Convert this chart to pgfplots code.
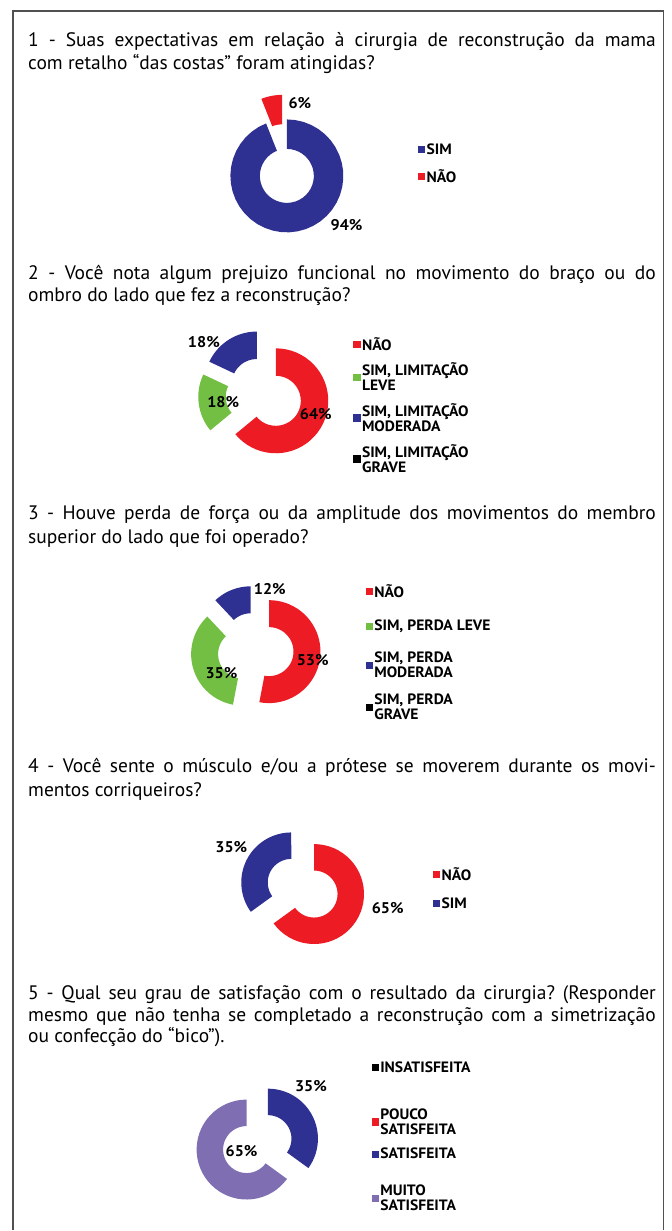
\documentclass[border=0pt]{standalone}
\usepackage{pgfplots}
\pgfplotsset{compat=1.18}
\usepackage{fontspec}
\setmainfont{PT Sans}
\newfontfamily\legfont[FakeStretch=1.04]{PT Sans}
\frenchspacing
\definecolor{cblue}{RGB}{46,49,146}
\definecolor{cred}{RGB}{237,28,36}
\definecolor{cgreen}{RGB}{114,191,68}
\definecolor{cpurple}{RGB}{127,111,178}
\definecolor{cframe}{RGB}{80,80,80}
\pgfplotsset{
  base/.style={scale only axis, width=672bp, height=1231bp,
    xmin=0, xmax=672, ymin=0, ymax=1231, y dir=reverse,
    hide axis, clip=false, at={(0,0)}, anchor=south west},
  legsq/.style={legend image code/.code={\fill[##1] (0bp,-3.6bp) rectangle (7.2bp,3.6bp);}},
}
% slice: cx, cy, R, r, explode, p1, p2, colour  (percent values, clockwise from 12 o'clock)
\newcommand{\donutslice}[8]{%
  \addplot[fill=#8, draw=none, domain=0:81, samples=82, variable=\t]
  ({#1 + #5*cos(90-1.8*(#6+#7)) + ifthenelse(\t<40.5,#3,#4)*cos(90-3.6*(ifthenelse(\t<40.5,#6+(#7-#6)*\t/40,#7-(#7-#6)*(\t-41)/40)))},
   {#2 - #5*sin(90-1.8*(#6+#7)) - ifthenelse(\t<40.5,#3,#4)*sin(90-3.6*(ifthenelse(\t<40.5,#6+(#7-#6)*\t/40,#7-(#7-#6)*(\t-41)/40)))});
}
\newcommand{\pct}[3]{\node[font=\legfont\bfseries\fontsize{15.5bp}{15.5bp}\selectfont, inner sep=0pt] at (axis cs:#1,#2) {#3};}
\newcommand{\legitem}[4]{%
  \begin{axis}[base, legend cell align=left,
    legend style={at={(#1/672,1-#2/1231)}, anchor=west, draw=none, fill=none, inner sep=0pt,
      font=\legfont\bfseries\fontsize{15bp}{15bp}\selectfont,
      nodes={align=left, inner sep=1.5bp, font=\legfont\bfseries\fontsize{15bp}{15bp}\selectfont}}]
  \addlegendimage{legsq, fill=#3, draw=none}
  \addlegendentry{#4}
  \end{axis}}
\newcommand{\qline}[3]{\node[anchor=base west, inner sep=0pt, font=\fontsize{19.5bp}{22.5bp}\selectfont] at (axis cs:#1,#2) {#3};}
\newcommand{\fline}[2]{\node[anchor=base west, inner sep=0pt, font=\fontsize{19.5bp}{22.5bp}\selectfont] at (axis cs:28,#1) {\makebox[628bp][s]{#2}};}
\begin{document}
\begin{tikzpicture}
% ---- text and frame
\begin{axis}[base]
\path (axis cs:0,0) rectangle (axis cs:672,1231);
\draw[cframe, line width=1.3bp] (axis cs:13,1231) -- (axis cs:13,11) -- (axis cs:664,11) -- (axis cs:664,1231);
\fline{46.7}{1 - Suas expectativas em relação à cirurgia de reconstrução da mama}
\qline{28}{69.3}{com retalho “das costas” foram atingidas?}
\fline{280}{2 - Você nota algum prejuizo funcional no movimento do braço ou do}
\qline{28}{301.7}{ombro do lado que fez a reconstrução?}
\fline{520}{3 - Houve perda de força ou da amplitude dos movimentos do membro}
\qline{28}{543.3}{superior do lado que foi operado?}
\fline{773.3}{4 - Você sente o músculo e/ou a prótese se moverem durante os movi-}
\qline{28}{796.7}{mentos corriqueiros?}
\fline{1000}{5 - Qual seu grau de satisfação com o resultado da cirurgia? (Responder}
\fline{1021.7}{mesmo que não tenha se completado a reconstrução com a simetrização}
\qline{28}{1043.3}{ou confecção do “bico”).}
\end{axis}
% ---- chart 1
\begin{axis}[base]
\donutslice{287}{176}{56.5}{27}{0}{0}{94}{cblue}
\donutslice{287}{176}{56.5}{27}{25}{94}{100}{cred}
\pct{300}{103.3}{6\%}
\pct{346.7}{225}{94\%}
\end{axis}
\legitem{418}{150}{cblue}{SIM}
\legitem{418}{176.7}{cred}{NÃO}
% ---- chart 2
\begin{axis}[base]
\donutslice{264}{395.4}{52.5}{25}{13.2}{0}{64}{cred}
\donutslice{264}{395.4}{52.5}{25}{13.2}{64}{82}{cgreen}
\donutslice{264}{395.4}{52.5}{25}{13.2}{82}{100}{cblue}
\pct{204}{342.7}{18\%}
\pct{223.3}{402.7}{18\%}
\pct{316}{414.3}{64\%}
\end{axis}
\legitem{353.3}{345}{cred}{NÃO}
\legitem{353.3}{377.5}{cgreen}{SIM, LIMITAÇÃO\\LEVE}
\legitem{353.3}{418.3}{cblue}{SIM, LIMITAÇÃO\\MODERADA}
\legitem{353.3}{459.2}{black}{SIM, LIMITAÇÃO\\GRAVE}
% ---- chart 3
\begin{axis}[base]
\donutslice{255.7}{650.7}{51.5}{24.5}{13.5}{0}{53}{cred}
\donutslice{255.7}{650.7}{51.5}{24.5}{13.5}{53}{88}{cgreen}
\donutslice{255.7}{650.7}{51.5}{24.5}{13.5}{88}{100}{cblue}
\pct{270}{589}{12\%}
\pct{312.9}{660}{53\%}
\pct{221.6}{673}{35\%}
\end{axis}
\legitem{365.6}{591.7}{cred}{NÃO}
\legitem{365.6}{626.7}{cgreen}{SIM, PERDA LEVE}
\legitem{365.6}{665.5}{cblue}{SIM, PERDA\\MODERADA}
\legitem{365.6}{707.5}{black}{SIM, PERDA\\GRAVE}
% ---- chart 4
\begin{axis}[base]
\donutslice{302.8}{888.7}{50}{23.5}{12.8}{0}{65}{cred}
\donutslice{302.8}{888.7}{50}{23.5}{12.8}{65}{100}{cblue}
\pct{231.4}{848}{35\%}
\pct{387.9}{909}{65\%}
\end{axis}
\legitem{432.9}{875}{cred}{NÃO}
\legitem{432.9}{904}{cblue}{SIM}
% ---- chart 5
\begin{axis}[base]
\donutslice{257.4}{1144.7}{50}{23.5}{12}{0}{35}{cblue}
\donutslice{257.4}{1144.7}{50}{23.5}{12}{35}{100}{cpurple}
\pct{311.1}{1087}{35\%}
\pct{241.7}{1152}{65\%}
\end{axis}
\legitem{371.6}{1068.3}{black}{INSATISFEITA}
\legitem{371.6}{1122.5}{cred}{POUCO\\SATISFEITA}
\legitem{371.6}{1155}{cblue}{SATISFEITA}
\legitem{371.6}{1199.2}{cpurple}{MUITO\\SATISFEITA}
\end{tikzpicture}
\end{document}
